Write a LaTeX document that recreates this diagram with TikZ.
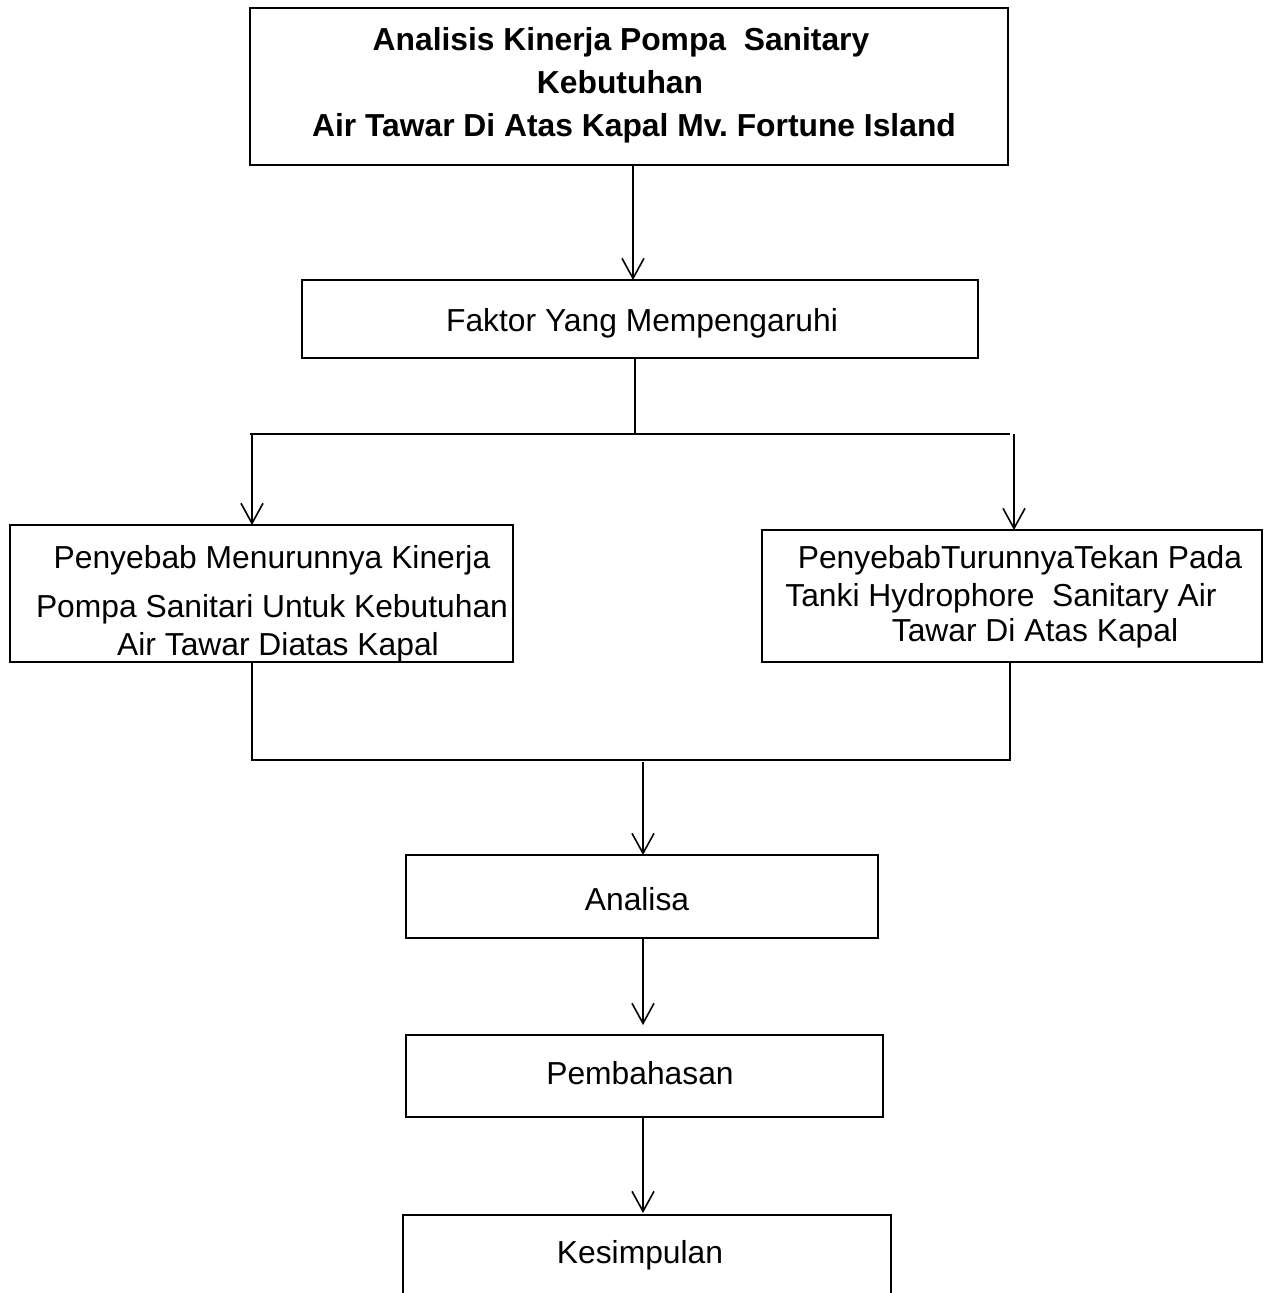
\documentclass[tikz,border=0pt]{standalone}
\usepackage{fontspec}
\setmainfont{Liberation Sans}
\usetikzlibrary{arrows.meta}
\frenchspacing
\begin{document}
\begin{tikzpicture}[x=1pt,y=-1pt,
  box/.style={draw,line width=1.6pt,inner sep=0pt,outer sep=0pt},
  txt/.style={inner sep=0pt,font=\fontsize{31.8}{36}\selectfont},
  btxt/.style={inner sep=0pt,font=\fontsize{31.8}{36}\selectfont\bfseries},
  conn/.style={line width=1.6pt},
  arr/.style={line width=1.6pt,-{Straight Barb[length=20pt,width=22pt,line width=1.6pt]}}]
\clip (0,0) rectangle (1273,1293);
\fill[white] (0,0) rectangle (1273,1293);
% boxes
\node[box,minimum width=758pt,minimum height=157pt] (title) at (629,86.5) {};
\node[box,minimum width=676pt,minimum height=78pt] (faktor) at (640,319) {};
\node[box,minimum width=503pt,minimum height=137pt] (left) at (261.5,593.5) {};
\node[box,minimum width=500pt,minimum height=132pt] (right) at (1012,596) {};
\node[box,minimum width=472pt,minimum height=83pt] (analisa) at (642,896.5) {};
\node[box,minimum width=477pt,minimum height=82pt] (pemb) at (644.5,1076) {};
\node[box,minimum width=488pt,minimum height=105pt] (kes) at (647,1267.5) {};
% texts
\node[btxt] (t1) at (621,42) {Analisis Kinerja Pompa\ \ Sanitary};
\node[btxt] (t2) at (620,82) {Kebutuhan};
\node[btxt] (t3) at (634,128) {Air Tawar Di Atas Kapal Mv. Fortune Island};
\node[txt] (f1) at (642,323) {Faktor Yang Mempengaruhi};
\node[txt] (l1) at (272,560) {Penyebab Menurunnya Kinerja};
\node[txt] (l2) at (272,609) {Pompa Sanitari Untuk Kebutuhan};
\node[txt] (l3) at (278,647) {Air Tawar Diatas Kapal};
\node[txt] (r1) at (1020,560) {PenyebabTurunnyaTekan Pada};
\node[txt] (r2) at (1001,598) {Tanki Hydrophore\ \ Sanitary Air};
\node[txt] (r3) at (1035,633) {Tawar Di Atas Kapal};
\node[txt] (a1) at (637,899) {Analisa};
\node[txt] (p1) at (640,1073) {Pembahasan};
\node[txt] (k1) at (640,1255) {Kesimpulan};
% junction coordinates
\coordinate (xa) at (633,0);
\coordinate (j1) at (635,434);
\coordinate (hl) at (250,434);
\coordinate (hr) at (1010,434);
\coordinate (dl) at (252,434);
\coordinate (dr) at (1014,434);
\coordinate (bl) at (252,760);
\coordinate (br) at (1010,760);
\coordinate (bm) at (643,762);
\coordinate (xb) at (643,0);
\coordinate (e1) at (643,1025);
\coordinate (e2) at (643,1213);
% connectors
\draw[arr] (title.south -| xa) -- (faktor.north -| xa);
\draw[conn] (faktor.south -| j1) -- (j1);
\draw[conn] (hl) -- (hr);
\draw[arr] (dl) -- (left.north -| dl);
\draw[arr] (dr) -- (right.north -| dr);
\draw[conn] (left.south -| bl) -- (bl) -- (br) -- (right.south -| br);
\draw[arr] (bm) -- (analisa.north -| bm);
\draw[arr] (analisa.south -| xb) -- (e1);
\draw[arr] (pemb.south -| xb) -- (e2);
\end{tikzpicture}
\end{document}
